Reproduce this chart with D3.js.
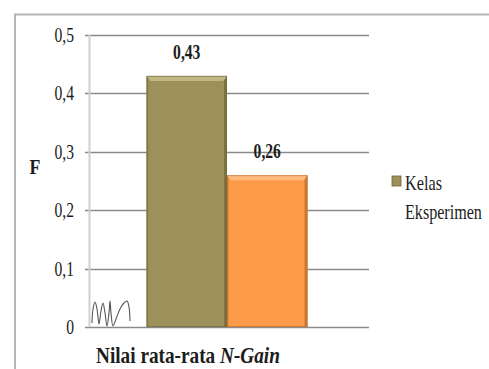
<!DOCTYPE html>
<html>
<head>
<meta charset="utf-8">
<script src="https://cdn.jsdelivr.net/npm/d3@7/dist/d3.min.js"></script>
<style>
  html, body { margin: 0; padding: 0; background: #fff; }
  svg { display: block; }
</style>
</head>
<body>
<svg id="chart" width="489" height="369"></svg>
<script>
// Chart data
const category = "Nilai rata-rata N-Gain";
const seriesNames = ["Kelas Eksperimen", "Kelas Kontrol"];
const seriesValues = [0.43, 0.26];
const valueLabels = ["0,43", "0,26"];
const tickValues = [0, 0.1, 0.2, 0.3, 0.4, 0.5];
const tickLabels = ["0", "0,1", "0,2", "0,3", "0,4", "0,5"];
const legendNames = ["Kelas", "Eksperimen"];

const colors = ["#9c915a", "#fd9b4b"];
const edgeColors = ["#6f6638", "#b8692c"];
const topColors = ["#c7bd88", "#ffc08a"];
const serif = "Times New Roman, Liberation Serif, serif";
const ink = "#1c1c1c";
// Text is set at twice its size and scaled down, which keeps the serif outlines crisp
const K = 2;

const svg = d3.select("#chart");

// Frame around the chart area
svg.append("path")
  .attr("d", "M15,369 V14.5 H489")
  .attr("fill", "none")
  .attr("stroke", "#b4b4b4")
  .attr("stroke-width", 2);

const plot = { left: 85, right: 369, top: 35, bottom: 327 };

const y = d3.scaleLinear().domain([0, 0.5]).range([plot.bottom, plot.top]);
const x0 = d3.scaleBand().domain([category]).range([plot.left, plot.right])
  .paddingInner(0).paddingOuter(0.382);
const x1 = d3.scaleBand().domain(seriesNames).range([0, x0.bandwidth()]).padding(0);

// Horizontal gridlines
svg.append("g").selectAll("line").data(tickValues).join("line")
  .attr("x1", plot.left).attr("x2", plot.right)
  .attr("y1", d => Math.round(y(d)) + 0.5).attr("y2", d => Math.round(y(d)) + 0.5)
  .attr("stroke", "#8a8a8a")
  .attr("stroke-width", 1.6);

// Vertical axis line
svg.append("line")
  .attr("x1", 89.5).attr("x2", 89.5)
  .attr("y1", plot.top).attr("y2", plot.bottom)
  .attr("stroke", "#cfcfcf").attr("stroke-width", 2);

// Places a text at (ax, ay), drawn at K times the size and scaled back,
// with an extra horizontal squeeze sx
function label(parent, ax, ay, size, sx, anchor) {
  return parent.append("text")
    .attr("x", 0).attr("y", 0)
    .attr("text-anchor", anchor || "start")
    .attr("font-family", serif)
    .attr("fill", ink)
    .attr("font-size", size * K)
    .attr("transform", `translate(${ax},${ay}) scale(${sx / K},${1 / K})`);
}
function fitWidth(t, ax, ay, target) {
  const w = t.node().getComputedTextLength() / K;
  t.attr("transform", `translate(${ax},${ay}) scale(${target / w / K},${1 / K})`);
}

// Tick labels
const tickG = svg.append("g");
tickValues.forEach((d, i) => {
  label(tickG, 74, y(d) + 7, 20, 0.78, "end").text(tickLabels[i]);
});

// Y title
label(svg, 35, 174, 21, 0.85, "middle").attr("font-weight", "bold").text("F");

// Decorative scribble near the origin
const scribble = [[0,26],[1,12],[3,5],[5,12],[7,27],[9,14],[11,6],[13,16],[15,29],[17,16],[18,4],[19,16],[21,29],[24,22],[28,12],[32,6],[35,4],[37,10],[38,24]];
svg.append("path")
  .datum(scribble)
  .attr("d", d3.line().x(d => 92 + d[0]).y(d => 297 + d[1]).curve(d3.curveCatmullRom))
  .attr("fill", "none").attr("stroke", "#555").attr("stroke-width", 1.1);

// Bars
const bars = svg.append("g").selectAll("g").data(seriesValues).join("g");
bars.each(function (v, i) {
  const g = d3.select(this);
  const bx = x0(category) + x1(seriesNames[i]);
  const bw = x1.bandwidth();
  const top = y(v);
  const h = y(0) - top;
  g.append("rect").attr("x", bx).attr("y", top).attr("width", bw).attr("height", h)
    .attr("fill", colors[i]);
  // bevelled edges
  g.append("path")
    .attr("d", `M${bx},${top} H${bx + bw} L${bx + bw - 4},${top + 5} H${bx + 4} Z`)
    .attr("fill", topColors[i]).attr("opacity", 0.85);
  g.append("path")
    .attr("d", `M${bx + bw},${top} V${top + h} H${bx + bw - 3} V${top + 5} Z`)
    .attr("fill", edgeColors[i]).attr("opacity", 0.7);
  g.append("path")
    .attr("d", `M${bx},${top} V${top + h} H${bx + 2} V${top + 4} Z`)
    .attr("fill", edgeColors[i]).attr("opacity", 0.35);
  g.append("rect").attr("x", bx + 0.5).attr("y", top + 0.5).attr("width", bw - 1).attr("height", h - 1)
    .attr("fill", "none").attr("stroke", edgeColors[i]).attr("stroke-width", 1).attr("opacity", 0.6);

  // value label
  label(g, bx + bw / 2, top - 17, 20, 0.78, "middle")
    .attr("font-weight", "bold").text(valueLabels[i]);
});

// X title with italic N-Gain
const xt = label(svg, 96, 363, 23, 1, "start").attr("font-weight", "bold");
xt.append("tspan").text("Nilai rata-rata ");
xt.append("tspan").attr("font-style", "italic").text("N-Gain");
fitWidth(xt, 96, 363, 184);

// Legend
svg.append("rect").attr("x", 392).attr("y", 176).attr("width", 9).attr("height", 10)
  .attr("fill", colors[0]).attr("stroke", edgeColors[0]).attr("stroke-width", 0.8);
const legendWidths = [37, 77];
legendNames.forEach((s, i) => {
  const ly = 190 + i * 29;
  const t = label(svg, 405, ly, 21, 1, "start").text(s);
  fitWidth(t, 405, ly, legendWidths[i]);
});
</script>
</body>
</html>
